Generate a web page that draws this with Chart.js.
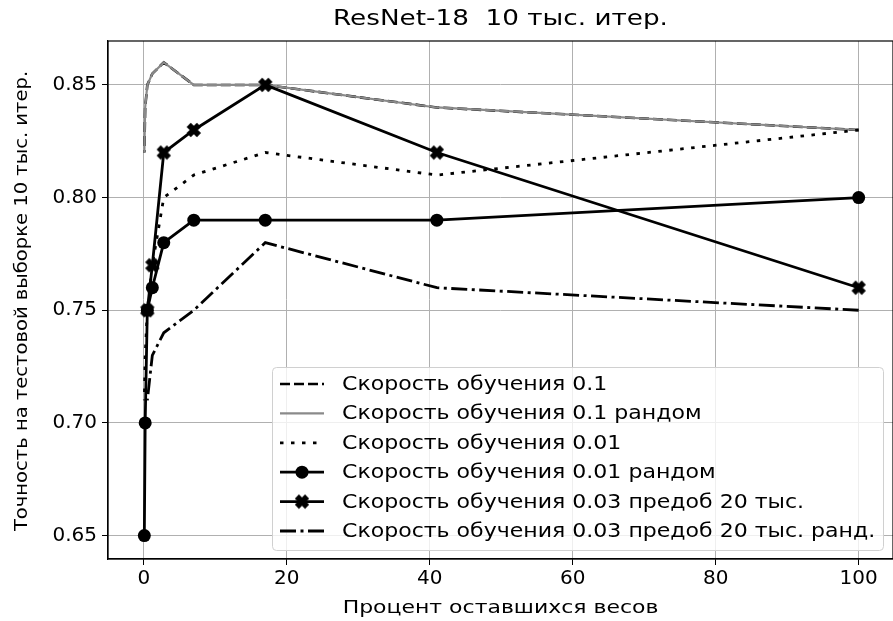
<!DOCTYPE html>
<html>
<head>
<meta charset="utf-8">
<script src="https://cdn.jsdelivr.net/npm/chart.js@4.4.1/dist/chart.umd.min.js"></script>
<style>
  html, body { margin: 0; padding: 0; background: #fff; }
  #wrap { width: 893px; height: 621px; }
</style>
</head>
<body>
<div id="wrap"><canvas id="chart" width="893" height="621"></canvas></div>
<script>
// percent of remaining weights (x), one entry per pruning round
const pctLeft = [100, 41, 17, 7, 2.8, 1.2, 0.5, 0.2, 0.08];

// test accuracy after 10k iterations, per learning rate setup
const lr01       = [0.83, 0.84, 0.85, 0.85, 0.86, 0.855, 0.85, 0.84, 0.82];
const lr01Rand   = [0.83, 0.84, 0.85, 0.85, 0.86, 0.855, 0.85, 0.84, 0.82];
const lr001      = [0.83, 0.81, 0.82, 0.81, 0.80, 0.77, 0.75, 0.73, 0.71];
const lr001Rand  = [0.80, 0.79, 0.79, 0.79, 0.78, 0.76, 0.75, 0.70, 0.65];
const lr003Pre   = [0.76, 0.82, 0.85, 0.83, 0.82, 0.77, 0.75];
const lr003PreRand = [0.75, 0.76, 0.78, 0.75, 0.74, 0.73, 0.71];

const seriesLabels = [
    'Скорость обучения 0.1',
    'Скорость обучения 0.1 рандом',
    'Скорость обучения 0.01',
    'Скорость обучения 0.01 рандом',
    'Скорость обучения 0.03 предоб 20 тыс.',
    'Скорость обучения 0.03 предоб 20 тыс. ранд.'
];

const chartTitle = 'ResNet-18  10 тыс. итер.';
const xTitle = 'Процент оставшихся весов';
const yTitle = 'Точность на тестовой выборке 10 тыс. итер.';

const xTicks = [0, 20, 40, 60, 80, 100];
const yTicks = [0.65, 0.70, 0.75, 0.80, 0.85];

const FONT = "'DejaVu Sans', sans-serif";

// filled "X" marker like matplotlib's 'X'
function makeXMarker(size) {
    const c = document.createElement('canvas');
    c.width = size; c.height = size;
    const g = c.getContext('2d');
    g.strokeStyle = '#000';
    g.lineWidth = size * 0.36;
    const p = size * 0.18;
    g.beginPath();
    g.moveTo(p, p); g.lineTo(size - p, size - p);
    g.moveTo(size - p, p); g.lineTo(p, size - p);
    g.stroke();
    return c;
}
const xMarker = makeXMarker(16);

function pts(ys) {
    return ys.map((y, i) => ({ x: pctLeft[i], y: y }));
}

const datasets = [
    { label: seriesLabels[0], data: pts(lr01), borderColor: '#000', borderWidth: 2.6,
      borderDash: [10, 4], pointRadius: 0, order: 6 },
    { label: seriesLabels[1], data: pts(lr01Rand), borderColor: '#8a8a8a', borderWidth: 2.2,
      pointRadius: 0, order: 5 },
    { label: seriesLabels[2], data: pts(lr001), borderColor: '#000', borderWidth: 2.8,
      borderDash: [3.5, 7.5], pointRadius: 0, order: 4 },
    { label: seriesLabels[3], data: pts(lr001Rand), borderColor: '#000', borderWidth: 2.8,
      pointStyle: 'circle', pointRadius: 6.5, pointBackgroundColor: '#000', pointBorderWidth: 0, order: 3 },
    { label: seriesLabels[4], data: pts(lr003Pre), borderColor: '#000', borderWidth: 2.8,
      pointStyle: xMarker, pointRadius: 8, order: 2 },
    { label: seriesLabels[5], data: pts(lr003PreRand), borderColor: '#000', borderWidth: 2.8,
      borderDash: [16, 4.5, 3, 4.5], pointRadius: 0, order: 1 }
];

// text in the reference is a bit wider than plain DejaVu, so stretch it sideways
function wideText(ctx, text, x, y, size, sx, align, angle) {
    ctx.save();
    ctx.translate(x, y);
    if (angle) ctx.rotate(angle);
    ctx.scale(sx, 1);
    ctx.font = size + 'px ' + FONT;
    ctx.fillStyle = '#000';
    ctx.textAlign = align;
    ctx.textBaseline = 'middle';
    ctx.fillText(text, 0, 0);
    ctx.restore();
}

// frame, titles and legend
const decorPlugin = {
    id: 'decor',
    afterDatasetsDraw(chart) {
        const { ctx, chartArea: a } = chart;
        ctx.save();
        ctx.strokeStyle = '#000';
        ctx.lineWidth = 1.2;
        ctx.strokeRect(a.left, a.top, a.right - a.left, a.bottom - a.top);
        ctx.restore();
    },
    afterDraw(chart) {
        const ctx = chart.ctx;
        const a = chart.chartArea;
        wideText(ctx, chartTitle, (a.left + a.right) / 2, 20, 21, 1.25, 'center', 0);
        wideText(ctx, xTitle, (a.left + a.right) / 2, 608, 18, 1.22, 'center', 0);
        wideText(ctx, yTitle, 23, 301, 17, 1.15, 'center', -Math.PI / 2);

        const box = { x: 272, y: 367, w: 611, h: 183 };
        ctx.save();
        ctx.fillStyle = 'rgba(255,255,255,0.8)';
        ctx.strokeStyle = '#d0d0d0';
        ctx.lineWidth = 1;
        ctx.beginPath();
        ctx.roundRect(box.x + 0.5, box.y + 0.5, box.w, box.h, 4);
        ctx.fill();
        ctx.stroke();
        chart.data.datasets.forEach((ds, i) => {
            const cy = 384 + i * 29.4;
            const x0 = 280, x1 = 324;
            ctx.strokeStyle = ds.borderColor;
            ctx.lineWidth = ds.borderWidth;
            ctx.setLineDash(ds.borderDash || []);
            ctx.beginPath();
            ctx.moveTo(x0, cy); ctx.lineTo(x1, cy);
            ctx.stroke();
            ctx.setLineDash([]);
            const mx = (x0 + x1) / 2;
            if (ds.pointStyle === 'circle') {
                ctx.fillStyle = '#000';
                ctx.beginPath();
                ctx.arc(mx, cy, 6.5, 0, Math.PI * 2);
                ctx.fill();
            } else if (ds.pointStyle === xMarker) {
                ctx.drawImage(xMarker, mx - 8, cy - 8);
            }
            wideText(ctx, ds.label, 342, cy + 1, 19, 1.16, 'left', 0);
        });
        ctx.restore();
    }
};

new Chart(document.getElementById('chart'), {
    type: 'line',
    data: { datasets: datasets },
    plugins: [decorPlugin],
    options: {
        responsive: false,
        animation: false,
        layout: { autoPadding: false, padding: { top: 41, right: 0, left: 0, bottom: 0 } },
        elements: { line: { tension: 0, fill: false } },
        plugins: {
            legend: { display: false },
            tooltip: { enabled: false },
            title: { display: false }
        },
        scales: {
            x: {
                type: 'linear',
                min: -5,
                max: 104.8,
                afterBuildTicks: s => { s.ticks = xTicks.map(v => ({ value: v })); },
                afterFit: s => { s.height = 62; s.paddingLeft = 0; s.paddingRight = 0; },
                grid: { color: '#b0b0b0', lineWidth: 1, tickColor: '#000', tickLength: 6 },
                border: { color: '#000', width: 1.2 },
                ticks: { color: '#000', font: { family: FONT, size: 20 }, padding: 2, maxRotation: 0 }
            },
            y: {
                type: 'linear',
                min: 0.6396,
                max: 0.8695,
                afterBuildTicks: s => { s.ticks = yTicks.map(v => ({ value: v })); },
                afterFit: s => { s.width = 108; s.paddingTop = 0; s.paddingBottom = 0; },
                grid: { color: '#b0b0b0', lineWidth: 1, tickColor: '#000', tickLength: 6 },
                border: { color: '#000', width: 1.2 },
                ticks: {
                    color: '#000',
                    font: { family: FONT, size: 20 },
                    padding: 5,
                    callback: v => v.toFixed(2)
                }
            }
        }
    }
});
</script>
</body>
</html>
